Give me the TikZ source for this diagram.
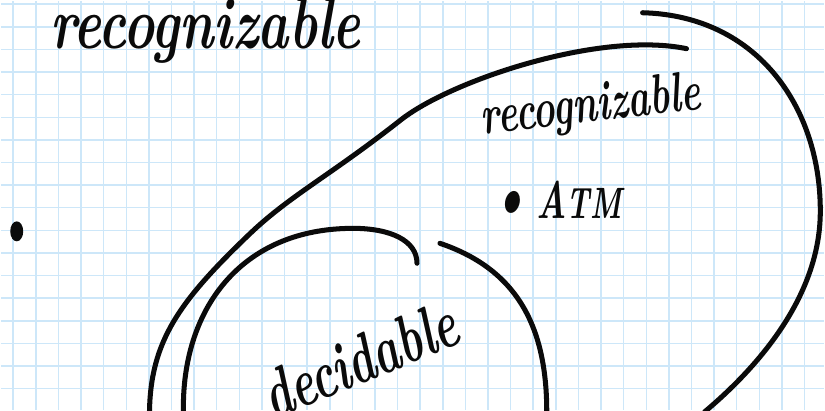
\documentclass[tikz,border=0pt]{standalone}
\usepackage{fontspec}
\usetikzlibrary{positioning}
\definecolor{ink}  {HTML}{0A0A0A}
\definecolor{grid} {HTML}{CDE7F9}
\definecolor{paper}{HTML}{FFFFFF}
\tikzset{
  gridline/.style={grid, line width=1.3pt},
  pen/.style={ink, line width=4.3pt, line cap=round, line join=round},
  hand/.style={text=ink, inner sep=0pt, font=\bfseries\itshape}
}
\newcommand{\tallword}[3]{\scalebox{1}[#2]{\fontsize{#1}{#1}\selectfont #3}}

\begin{document}
\begin{tikzpicture}[x=0.03cm, y=-0.03cm]
    \fill[paper] (0,0) rectangle (825,410);
    \foreach \i in {0,...,35}
      {\draw[gridline] (12.5+\i*22.65, 0) -- (12.5+\i*22.65, 410);}
    \foreach \j in {0,...,17}
      {\draw[gridline] (0, 3.5+\j*22.65) -- (825, 3.5+\j*22.65);}
    \useasboundingbox (0,0) rectangle (825,410);

    % labels
    \node[hand, anchor=base] (toplbl) at (205,48) {\tallword{45}{1.4}{recognizable}};
    \node[hand, anchor=base, rotate=6.5] (outerlbl) at (593,121) {\tallword{32}{1.5}{recognizable}};
    \node[hand, anchor=base west] (atm) at (489,218)
      {\tallword{30}{1.5}{{\fontsize{40}{40}\selectfont\textbullet}\,A{\fontsize{25}{25}\selectfont TM}}};
    \node[hand, anchor=base, rotate=22] (decidelbl) at (368,381) {\tallword{39}{1.5}{decidable}};

    % lone dot
    \fill[ink] (16,231) ellipse [x radius=6.5, y radius=10];

    % outer set, right stroke
    \draw[pen] (643,12) .. controls (760,15) and (823,110) .. (821,215)
               .. controls (819,300) and (755,370) .. (705,412);
    % outer set, left stroke
    \draw[pen] (687,48) .. controls (600,30) and (450,80) .. (400,120)
               .. controls (330,175) and (290,195) .. (250,233)
               .. controls (180,300) and (150,340) .. (149,412);
    % inner set
    \draw[pen] (183,412) .. controls (181,310) and (240,228) .. (353,228)
               .. controls (390,228) and (417,240) .. (417,263);
    \draw[pen] (440,243) .. controls (520,270) and (547,330) .. (547,412);
\end{tikzpicture}
\end{document}
